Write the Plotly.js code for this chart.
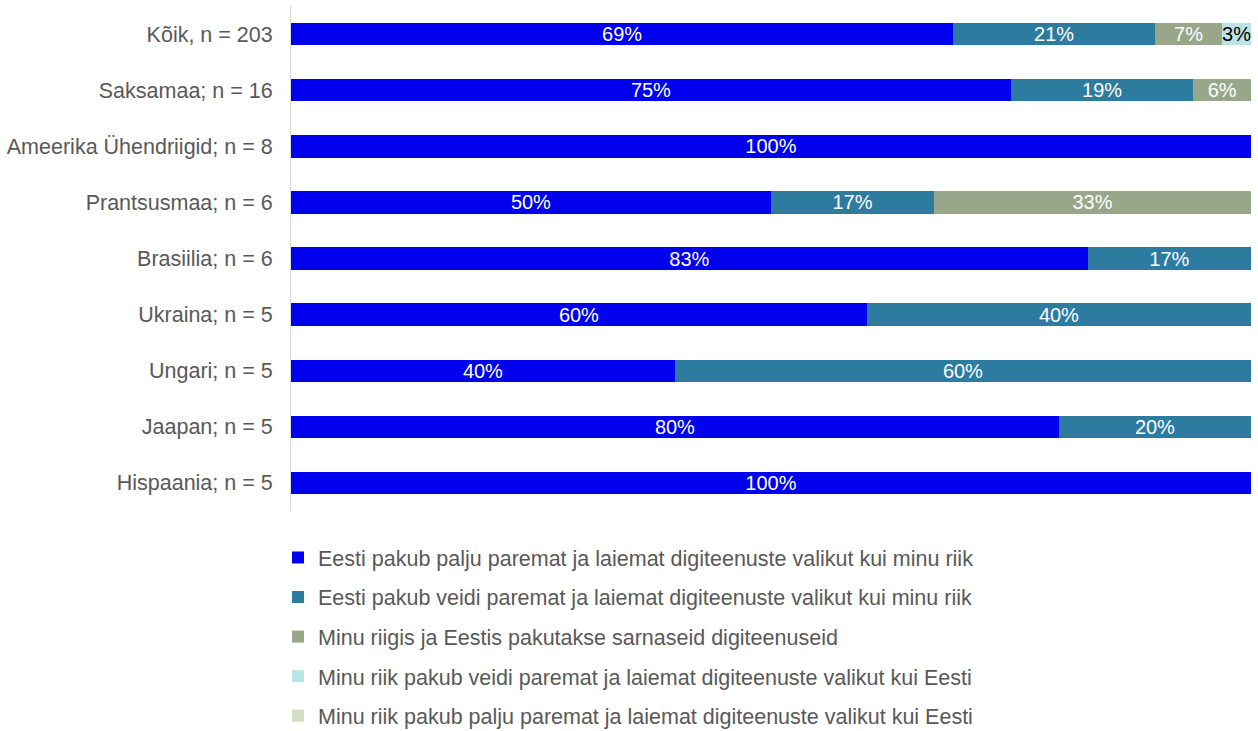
<!DOCTYPE html>
<html>
<head>
<meta charset="utf-8">
<script src="https://cdn.plot.ly/plotly-3.0.1.min.js"></script>
<style>html,body{margin:0;padding:0;background:#fff;}#chart{width:1258px;height:731px;}</style>
</head>
<body>
<div id="chart"></div>
<script>
const categories = ["Kõik, n = 203", "Saksamaa; n = 16", "Ameerika Ühendriigid; n = 8", "Prantsusmaa; n = 6", "Brasiilia; n = 6", "Ukraina; n = 5", "Ungari; n = 5", "Jaapan; n = 5", "Hispaania; n = 5"];
const seriesNames = [
  "Eesti pakub palju paremat ja laiemat digiteenuste valikut kui minu riik",
  "Eesti pakub veidi paremat ja laiemat digiteenuste valikut kui minu riik",
  "Minu riigis ja Eestis pakutakse sarnaseid digiteenuseid",
  "Minu riik pakub veidi paremat ja laiemat digiteenuste valikut kui Eesti",
  "Minu riik pakub palju paremat ja laiemat digiteenuste valikut kui Eesti"
];
const muchBetterEE = [69, 75, 100, 50, 83, 60, 40, 80, 100];
const slightlyBetterEE = [21, 19, null, 17, 17, 40, 60, 20, null];
const similar = [7, 6, null, 33, null, null, null, null, null];
const slightlyBetterMine = [3, null, null, null, null, null, null, null, null];
const muchBetterMine = [null, null, null, null, null, null, null, null, null];

const values = [muchBetterEE, slightlyBetterEE, similar, slightlyBetterMine, muchBetterMine];
const colors = ["#0000ee", "#2e7ba0", "#98a68a", "#b9e3e6", "#d6dcc2"];
const textColors = ["#ffffff", "#ffffff", "#ffffff", "#000000", "#000000"];

const traces = values.map((v, i) => ({
  type: "bar",
  orientation: "h",
  name: seriesNames[i],
  legendgroup: "g" + i,
  y: categories,
  x: v,
  marker: {color: colors[i]},
  texttemplate: "%{x}%",
  textposition: "inside",
  insidetextanchor: "middle",
  constraintext: "none",
  textangle: 0,
  textfont: {family: "Liberation Sans, Arial, sans-serif", size: 20, color: textColors[i]},
  hoverinfo: "skip"
}));

const layout = {
  width: 1258,
  height: 731,
  margin: {l: 291, r: 7, t: 6, b: 220, autoexpand: false},
  barmode: "stack",
  bargap: 0.6,
  paper_bgcolor: "#ffffff",
  plot_bgcolor: "#ffffff",
  font: {family: "Liberation Sans, Arial, sans-serif", size: 21.5, color: "#595959"},
  xaxis: {range: [0, 100], visible: false, fixedrange: true},
  yaxis: {
    type: "category",
    autorange: "reversed",
    showline: true,
    linecolor: "#d9d9d9",
    linewidth: 1,
    ticks: "",
    showgrid: false,
    zeroline: false,
    automargin: false,
    ticklabelstandoff: 13,
    tickfont: {size: 21.5, color: "#595959"}
  },
  showlegend: true,
  legend: {
    orientation: "v",
    x: (278 - 291) / 960,
    xanchor: "left",
    y: 1 - (537 - 6) / 505,
    yanchor: "top",
    traceorder: "grouped",
    tracegroupgap: 8.6,
    font: {size: 21.5, color: "#595959"},
    itemwidth: 30
  }
};

Plotly.newPlot("chart", traces, layout, {displayModeBar: false, staticPlot: true});
</script>
</body>
</html>
